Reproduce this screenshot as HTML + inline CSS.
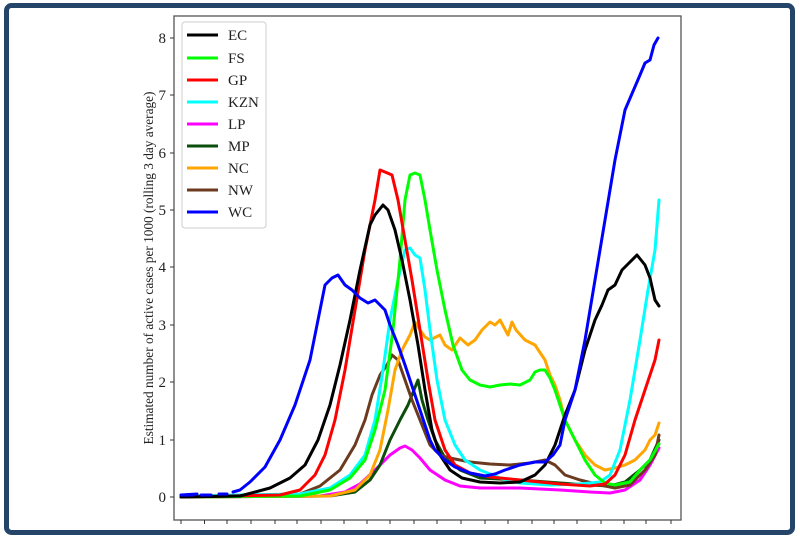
<!DOCTYPE html>
<html><head><meta charset="utf-8"><style>
html,body{margin:0;padding:0;background:#fff;}
svg{display:block;}
text{font-family:"Liberation Serif","DejaVu Serif",serif;}
</style></head><body>
<svg width="800" height="539" viewBox="0 0 800 539" xmlns="http://www.w3.org/2000/svg">
<rect x="0" y="0" width="800" height="539" fill="#fff"/>
<rect x="6.5" y="5.5" width="786" height="527" rx="5" fill="none" stroke="#24446a" stroke-width="5"/>
<!-- axes -->
<rect x="174" y="16" width="507" height="504" fill="none" stroke="#555" stroke-width="1.3"/>
<g stroke="#333" stroke-width="1">
<line x1="170" y1="497" x2="174" y2="497"/><line x1="170" y1="440" x2="174" y2="440"/>
<line x1="170" y1="382" x2="174" y2="382"/><line x1="170" y1="325" x2="174" y2="325"/>
<line x1="170" y1="267" x2="174" y2="267"/><line x1="170" y1="210" x2="174" y2="210"/>
<line x1="170" y1="153" x2="174" y2="153"/><line x1="170" y1="95" x2="174" y2="95"/>
<line x1="170" y1="38" x2="174" y2="38"/>
<path d="M181 520v4M204.5 520v4M227 520v4M251 520v4M275 520v4M297 520v4M321 520v4M344 520v4M367 520v4M390 520v4M414 520v4M437 520v4M461 520v4M485 520v4M508 520v4M532 520v4M554 520v4M577 520v4M601 520v4M624 520v4M646 520v4M671 520v4"/>
</g>
<g font-size="15" text-anchor="end" fill="#222">
<text x="166" y="502">0</text><text x="166" y="445">1</text><text x="166" y="387">2</text>
<text x="166" y="330">3</text><text x="166" y="272">4</text><text x="166" y="215">5</text>
<text x="166" y="158">6</text><text x="166" y="100">7</text><text x="166" y="43">8</text>
</g>
<text transform="translate(153,268) rotate(-90)" text-anchor="middle" font-size="13.3" fill="#222">Estimated number of active cases per 1000 (rolling 3 day average)</text>
<g fill="none" stroke-width="3" stroke-linejoin="round" stroke-linecap="round">
<polyline stroke="#ff00ff" points="181,497 320,496 345,492 360,484 375,470 390,455 400,448 405,446 412,450 420,458 430,470 445,480 460,486 480,488 520,488 560,490 590,492 610,493 625,490 640,480 650,465 659,448"/>
<polyline stroke="#0b4d0b" points="181,497 330,496 355,492 370,480 380,465 390,440 400,420 408,405 414,390 418,380 422,400 428,420 435,440 445,458 460,470 480,478 520,480 560,483 590,485 610,486 625,482 640,470 650,460 659,440"/>
<polyline stroke="#6b3a1f" points="181,497 300,494 320,486 340,470 355,445 365,420 372,395 380,375 387,365 392,355 398,360 405,380 412,400 420,420 430,445 440,455 450,458 460,460 470,462 490,464 510,465 530,463 545,460 555,465 565,475 580,480 600,485 615,488 630,485 645,470 655,455 659,435"/>
<polyline stroke="#ffa500" points="181,497 330,496 355,490 370,475 380,450 388,410 395,370 402,350 410,335 415,322 420,330 425,337 430,340 440,335 445,345 452,350 460,338 468,345 475,340 482,330 490,322 495,325 500,320 508,335 512,322 516,330 525,340 535,345 545,360 550,375 555,385 560,400 565,420 575,440 585,455 595,465 605,470 615,468 625,465 635,460 645,450 650,440 655,435 659,423"/>
<polyline stroke="#00ffff" points="181,496 300,494 330,488 350,475 365,455 375,420 383,370 390,320 398,280 405,250 410,248 415,255 420,258 425,290 430,330 437,380 445,420 455,445 465,460 480,470 500,478 520,483 550,485 580,484 600,482 610,475 620,450 630,400 640,340 648,290 655,250 659,200"/>
<polyline stroke="#00ff00" points="181,497 300,496 330,490 350,478 365,460 375,430 385,390 393,330 400,260 405,200 410,175 415,173 420,175 425,200 430,230 437,270 445,310 453,345 462,370 470,380 480,385 490,387 500,385 510,384 520,385 530,380 535,372 540,370 545,370 550,378 555,390 560,405 565,420 575,440 585,460 595,475 605,483 615,485 630,482 640,470 650,460 659,444"/>
<polyline stroke="#ff0000" points="181,497 280,495 300,490 315,475 325,455 335,420 345,370 355,310 365,250 375,200 380,170 385,172 392,175 398,200 405,240 412,280 420,330 428,380 435,420 445,450 455,465 470,473 490,477 520,480 560,484 590,486 605,484 615,475 625,455 635,420 645,390 650,375 655,360 659,340"/>
<polyline stroke="#000000" points="181,497 240,496 270,488 290,478 305,465 318,440 330,405 340,365 350,320 360,270 370,225 375,215 383,205 388,210 395,230 402,260 410,300 418,345 425,390 432,430 440,455 450,470 462,478 480,482 500,483 520,482 535,475 545,465 555,445 565,415 575,390 585,350 595,320 602,305 608,290 615,285 622,270 630,262 637,255 645,265 650,278 655,300 659,306"/>
<polyline stroke="#0000ff" points="181,495 197,494 M0,0"/>
<path stroke="#0000ff" d="M181 495h12M201 495h10M219 494h8"/>
<polyline stroke="#0000ff" points="233,492 240,490 250,482 265,467 280,440 295,405 310,360 318,320 325,285 332,278 338,275 345,285 352,290 360,298 368,303 375,300 380,305 385,310 390,325 398,345 405,365 410,380 415,395 420,410 425,425 430,440 435,450 445,460 455,467 470,473 485,476 495,474 505,470 520,465 535,462 545,462 553,455 560,445 565,420 575,390 585,340 595,280 605,220 615,160 625,110 640,75 645,63 650,60 654,45 658,38"/>
</g>
<!-- legend -->
<rect x="182" y="22" width="84" height="206" rx="3" fill="#fff" fill-opacity="0.9" stroke="#ccc" stroke-width="1"/>
<g stroke-width="3">
<line x1="187" y1="35" x2="218" y2="35" stroke="#000"/>
<line x1="187" y1="58" x2="218" y2="58" stroke="#00ff00"/>
<line x1="187" y1="80" x2="218" y2="80" stroke="#ff0000"/>
<line x1="187" y1="102" x2="218" y2="102" stroke="#00ffff"/>
<line x1="187" y1="124" x2="218" y2="124" stroke="#ff00ff"/>
<line x1="187" y1="146" x2="218" y2="146" stroke="#0b4d0b"/>
<line x1="187" y1="168" x2="218" y2="168" stroke="#ffa500"/>
<line x1="187" y1="190" x2="218" y2="190" stroke="#6b3a1f"/>
<line x1="187" y1="212" x2="218" y2="212" stroke="#0000ff"/>
</g>
<g font-size="15" fill="#222">
<text x="228" y="40">EC</text><text x="228" y="63">FS</text><text x="228" y="85">GP</text>
<text x="228" y="107">KZN</text><text x="228" y="129">LP</text><text x="228" y="151">MP</text>
<text x="228" y="173">NC</text><text x="228" y="195">NW</text><text x="228" y="217">WC</text>
</g>
</svg>
</body></html>
